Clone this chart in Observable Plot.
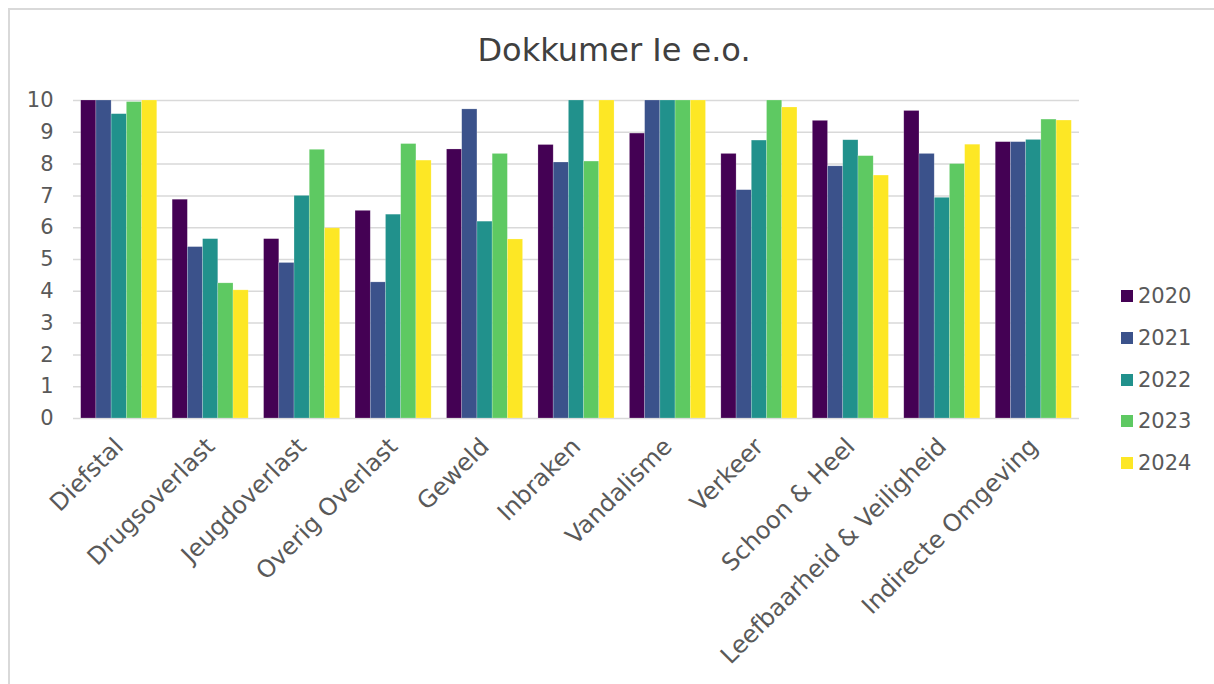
<!DOCTYPE html>
<html>
<head>
<meta charset="utf-8">
<script src="https://cdn.jsdelivr.net/npm/d3@7"></script>
<script src="https://cdn.jsdelivr.net/npm/@observablehq/plot@0.6"></script>
<style>
  html, body { margin: 0; padding: 0; background: #fff; }
  #wrap { position: relative; width: 1214px; height: 684px; overflow: hidden; font-family: "DejaVu Sans", Verdana, sans-serif; }
  #frame { position: absolute; left: 8px; top: 8px; width: 1300px; height: 800px; border-left: 2px solid #d9d9d9; border-top: 2px solid #d9d9d9; }
  .layer { position: absolute; left: 0; top: 0; }
  #title { position: absolute; left: 0; width: 1228px; top: 34px; text-align: center; font-size: 32px; line-height: 32px; color: #404040; }
  #legend { position: absolute; left: 1121px; top: 0; }
  .item { position: absolute; left: 0; height: 24px; display: flex; align-items: center; white-space: nowrap; }
  .sw { width: 12px; height: 12px; margin-right: 5px; }
  .lab { font-size: 21px; color: #595959; }
</style>
</head>
<body>
<div id="wrap">
  <div id="frame"></div>
  <div id="bg" class="layer"></div>
  <div id="fg" class="layer"></div>
  <div id="title">Dokkumer Ie e.o.</div>
  <div id="legend"></div>
</div>
<script>
const categories = ["Diefstal", "Drugsoverlast", "Jeugdoverlast", "Overig Overlast", "Geweld", "Inbraken", "Vandalisme", "Verkeer", "Schoon & Heel", "Leefbaarheid & Veiligheid", "Indirecte Omgeving"];
const years = ["2020", "2021", "2022", "2023", "2024"];
const values2020 = [10, 6.88, 5.64, 6.53, 8.46, 8.60, 8.96, 8.32, 9.36, 9.67, 8.69];
const values2021 = [10, 5.39, 4.89, 4.28, 9.72, 8.05, 10, 7.18, 7.93, 8.32, 8.69];
const values2022 = [9.57, 5.64, 7.00, 6.41, 6.19, 10, 10, 8.74, 8.75, 6.94, 8.76];
const values2023 = [9.95, 4.25, 8.45, 8.63, 8.32, 8.08, 10, 10, 8.25, 8.00, 9.40];
const values2024 = [10, 4.03, 5.98, 8.11, 5.63, 10, 10, 9.78, 7.64, 8.61, 9.37];
const yTicks = [0, 1, 2, 3, 4, 5, 6, 7, 8, 9, 10];
const colors = ["#440154", "#3b528b", "#21918c", "#5ec962", "#fde725"];

const series = [values2020, values2021, values2022, values2023, values2024];
const data = [];
categories.forEach((c, i) => years.forEach((y, j) => data.push({category: c, year: y, value: series[j][i]})));

const W = 1214, H = 684;
const M = {top: 100, right: 135, bottom: 266, left: 73};
const baseStyle = {fontFamily: "'DejaVu Sans', Verdana, sans-serif", color: "#595959", background: "transparent", overflow: "visible"};

// Background: gridlines + y axis
const bg = Plot.plot({
  width: W, height: H,
  marginTop: M.top, marginRight: M.right, marginBottom: M.bottom, marginLeft: M.left,
  style: {...baseStyle, fontSize: "21px"},
  x: {domain: [0, 1], axis: null},
  y: {domain: [0, 10], ticks: yTicks, tickSize: 0, tickPadding: 20, label: null, tickFormat: d => String(d)},
  marks: [
    Plot.ruleY(yTicks, {stroke: "#d9d9d9", strokeWidth: 1.5})
  ]
});
document.getElementById("bg").appendChild(bg);

// Foreground: grouped bars via fx facets
const fg = Plot.plot({
  width: W, height: H,
  marginTop: M.top, marginRight: M.right, marginBottom: M.bottom, marginLeft: M.left,
  style: {...baseStyle, fontSize: "24px"},
  fx: {domain: categories, paddingInner: 0.168, paddingOuter: 0.084, round: false, axis: "bottom", tickRotate: -45, tickSize: 0, tickPadding: 24, label: null},
  x: {domain: years, padding: 0, round: false, axis: null},
  y: {domain: [0, 10], axis: null},
  color: {domain: years, range: colors},
  marks: [
    Plot.barY(data, {fx: "category", x: "year", y: "value", fill: "year", stroke: "#ffffff", strokeOpacity: 0.35, strokeWidth: 0.6})
  ]
});
document.getElementById("fg").appendChild(fg);

// Legend
const legend = d3.select("#legend");
const legendY = [296, 338, 380, 421, 463];
years.forEach((y, i) => {
  const it = legend.append("div").attr("class", "item").style("top", (legendY[i] - 12) + "px");
  it.append("div").attr("class", "sw").style("background", colors[i]);
  it.append("span").attr("class", "lab").text(y);
});
</script>
</body>
</html>
